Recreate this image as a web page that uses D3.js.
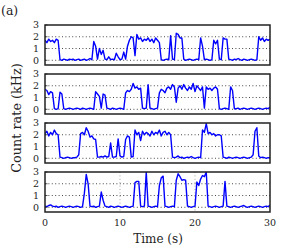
<!DOCTYPE html>
<html>
<head>
<meta charset="utf-8">
<script src="https://cdn.jsdelivr.net/npm/d3@7"></script>
<style>
  body { margin: 0; background: #fff; }
  svg { display: block; }
  text { font-family: "DejaVu Serif", "Liberation Serif", serif; fill: #222; }
</style>
</head>
<body>
<div id="chart"></div>
<script>
// sample spacing of the traces (s)
const step = 0.25;

// count rate traces (kHz), one value every 0.25 s from 0 to 30 s
const trace1 = [
  1.7,1.5,1.8,1.6,1.7,1.5,1.8,1.7,
  0.05,0.0,0.1,0.05,0.0,0.1,0.05,0.1,0.0,0.05,0.1,0.0,0.05,0.1,0.0,0.05,0.15,0.05,
  1.6,1.2,0.1,1.0,0.5,0.85,0.1,0.05,
  0.3,0.05,0.1,0.05,0.6,0.3,0.05,0.1,0.7,0.1,
  1.2,1.7,2.0,1.9,0.4,2.2,1.8,1.9,1.6,1.8,1.7,1.9,1.6,1.8,1.5,1.9,1.7,1.5,
  0.05,0.0,0.05,0.1,0.05,
  2.1,0.1,0.05,2.3,2.2,1.9,1.9,
  0.1,0.0,0.05,0.1,0.05,0.0,0.05,0.1,0.05,
  1.9,1.2,
  0.05,0.1,0.05,0.0,0.05,
  1.7,1.4,1.7,
  0.1,0.05,
  1.9,1.8,1.8,
  0.1,0.05,0.0,0.1,0.05,0.15,0.05,0.0,0.1,0.05,0.0,0.05,0.1,0.05,0.0,0.05,
  2.0,1.7,1.9,1.6,1.8,1.7,1.8
];

const trace2 = [
  1.7,1.6,1.25,1.5,1.4,
  0.05,0.0,0.05,1.45,1.3,0.05,
  0.0,0.05,0.1,0.05,0.0,0.05,0.1,0.05,0.0,0.1,0.05,0.0,0.05,0.1,0.05,0.0,
  1.5,1.3,1.1,0.1,1.3,1.2,0.1,
  0.05,0.0,0.1,0.05,0.0,0.05,0.1,0.05,0.0,
  1.4,1.6,1.5,1.7,2.2,1.8,1.9,1.7,1.8,
  0.1,0.05,0.1,2.1,0.1,
  0.05,0.0,0.05,0.1,
  1.4,1.7,1.6,1.4,1.8,1.9,1.7,2.1,1.9,0.6,1.8,2.0,1.7,2.1,1.8,1.6,
  1.9,1.7,2.2,1.5,2.0,1.8,1.6,1.9,0.1,1.9,1.7,1.8,1.6,1.8,1.9,1.7,
  0.05,
  0.0,0.05,0.1,0.05,0.0,
  1.9,1.6,0.05,
  0.05,0.1,0.0,0.05,0.1,0.05,0.0,0.05,0.1,0.05,0.0,0.05,0.1,0.05,0.0,0.05,0.1,0.05,0.2
];

const trace3 = [
  2.1,2.3,1.9,2.2,2.0,2.4,2.1,2.0,
  0.1,
  0.05,0.0,0.05,0.1,0.05,0.0,0.05,0.05,0.1,
  0.3,2.1,2.2,2.0,2.6,2.3,1.8,1.9,1.65,1.6,0.1,
  0.1,0.15,0.1,0.2,0.1,0.15,
  1.3,0.1,0.1,0.15,1.65,0.2,0.1,0.15,1.6,1.9,1.8,0.1,0.15,2.4,2.0,2.2,1.5,
  2.3,2.0,2.2,2.1,1.9,2.3,2.0,2.2,2.1,2.4,1.9,2.2,2.3,2.0,2.2,2.0,0.1,
  0.05,0.1,0.2,0.05,0.1,0.0,0.05,0.1,0.05,0.15,0.05,0.0,0.05,0.1,0.05,
  2.4,2.2,2.95,2.1,2.2,2.0,2.1,1.9,2.0,2.0,1.9,0.1,
  0.05,0.0,0.1,0.05,0.0,0.05,0.1,0.05,0.0,0.05,0.1,0.05,0.0,0.05,0.1,
  0.3,2.3,2.6,0.2,
  0.05,0.1,0.05,0.0,0.05,0.05
];

const trace4 = [
  0.1,0.05,0.15,0.2,0.1,0.05,0.1,0.0,0.05,0.1,0.05,0.0,0.05,0.1,0.05,0.0,0.05,0.1,0.05,0.0,0.05,
  1.2,2.8,2.0,0.1,
  0.05,0.1,0.0,0.05,
  0.1,1.3,0.6,0.1,
  0.05,0.0,0.1,0.05,0.0,0.05,0.1,0.05,0.0,0.05,0.1,0.05,0.0,0.05,
  0.1,2.1,2.2,2.2,0.1,
  0.05,0.1,3.0,0.1,
  0.05,0.0,0.05,0.1,0.05,
  1.85,2.5,2.65,0.1,
  0.05,0.0,0.05,0.1,0.05,
  2.3,2.85,2.6,2.3,2.35,2.3,0.1,
  0.05,0.0,0.05,0.1,
  2.15,1.85,2.4,2.7,2.6,3.0,0.1,
  0.05,0.0,0.05,0.1,0.05,0.0,0.05,0.1,
  2.2,0.1,
  0.05,0.0,0.05,0.1,0.05,0.0,0.05,0.1,0.15,0.05,0.0,0.05,0.1,0.05,0.0,0.05,0.1,0.05,0.0,0.05,0.1,0.05,0.2
];

const traces = [trace1, trace2, trace3, trace4];

// axis ticks
const yTicks = [0, 1, 2, 3];
const gridValues = [0, 1, 2];
const xTicks = [0, 10, 20, 30];
const xGridBottom = [10, 20];

const W = 300, H = 250;
const left = 45, plotW = 225;
const firstTop = 25, panelH = 40, panelStep = 49;

const svg = d3.select("#chart").append("svg")
  .attr("width", W)
  .attr("height", H);

const x = d3.scaleLinear().domain([0, 30]).range([left, left + plotW]);

traces.forEach((trace, k) => {
  const top = firstTop + k * panelStep;
  const y = d3.scaleLinear().domain([-0.4, 3]).range([top + panelH, top]);
  const g = svg.append("g");

  // clip so spikes stay inside the frame
  svg.append("clipPath").attr("id", "clip" + k)
    .append("rect")
    .attr("x", left).attr("y", top)
    .attr("width", plotW).attr("height", panelH);

  // dotted horizontal grid
  g.selectAll(".grid")
    .data(gridValues)
    .enter().append("line")
    .attr("x1", left).attr("x2", left + plotW)
    .attr("y1", d => y(d)).attr("y2", d => y(d))
    .attr("stroke", "#333")
    .attr("stroke-width", 0.9)
    .attr("stroke-dasharray", "1,2.4");

  // vertical grid only shows in the last panel
  if (k === traces.length - 1) {
    g.selectAll(".vgrid")
      .data(xGridBottom)
      .enter().append("line")
      .attr("x1", d => x(d)).attr("x2", d => x(d))
      .attr("y1", top).attr("y2", top + panelH)
      .attr("stroke", "#999")
      .attr("stroke-width", 0.9)
      .attr("stroke-dasharray", "1,2.4");
  }

  // trace
  const line = d3.line()
    .x((d, i) => x(i * step))
    .y(d => y(d));

  g.append("path")
    .datum(trace)
    .attr("clip-path", "url(#clip" + k + ")")
    .attr("fill", "none")
    .attr("stroke", "#0000ff")
    .attr("stroke-width", 1.4)
    .attr("stroke-linejoin", "round")
    .attr("d", line);

  // y tick labels
  g.selectAll(".ylab")
    .data(yTicks)
    .enter().append("text")
    .attr("x", 39)
    .attr("y", d => y(d) + 3.4)
    .attr("text-anchor", "end")
    .style("font-size", "9.5px")
    .text(d => d);

  // small inward ticks
  g.selectAll(".ytick")
    .data(yTicks)
    .enter().append("line")
    .attr("x1", left).attr("x2", left + 2.5)
    .attr("y1", d => y(d)).attr("y2", d => y(d))
    .attr("stroke", "#222").attr("stroke-width", 0.8);

  // frame
  g.append("rect")
    .attr("x", left).attr("y", top)
    .attr("width", plotW).attr("height", panelH)
    .attr("fill", "none")
    .attr("stroke", "#222")
    .attr("stroke-width", 1.5);

  // x axis labels under the last panel
  if (k === traces.length - 1) {
    g.selectAll(".xlab")
      .data(xTicks)
      .enter().append("text")
      .attr("x", d => x(d))
      .attr("y", top + panelH + 13.5)
      .attr("text-anchor", "middle")
      .style("font-size", "9.5px")
      .text(d => d);
  }
});

svg.append("text")
  .attr("x", 158)
  .attr("y", 243)
  .attr("text-anchor", "middle")
  .style("font-size", "12px")
  .text("Time (s)");

svg.append("text")
  .attr("transform", "translate(21,118) rotate(-90)")
  .attr("text-anchor", "middle")
  .style("font-size", "12.8px")
  .text("Count rate (kHz)");

svg.append("text")
  .attr("x", 1)
  .attr("y", 15)
  .style("font-size", "12.5px")
  .text("(a)");
</script>
</body>
</html>
